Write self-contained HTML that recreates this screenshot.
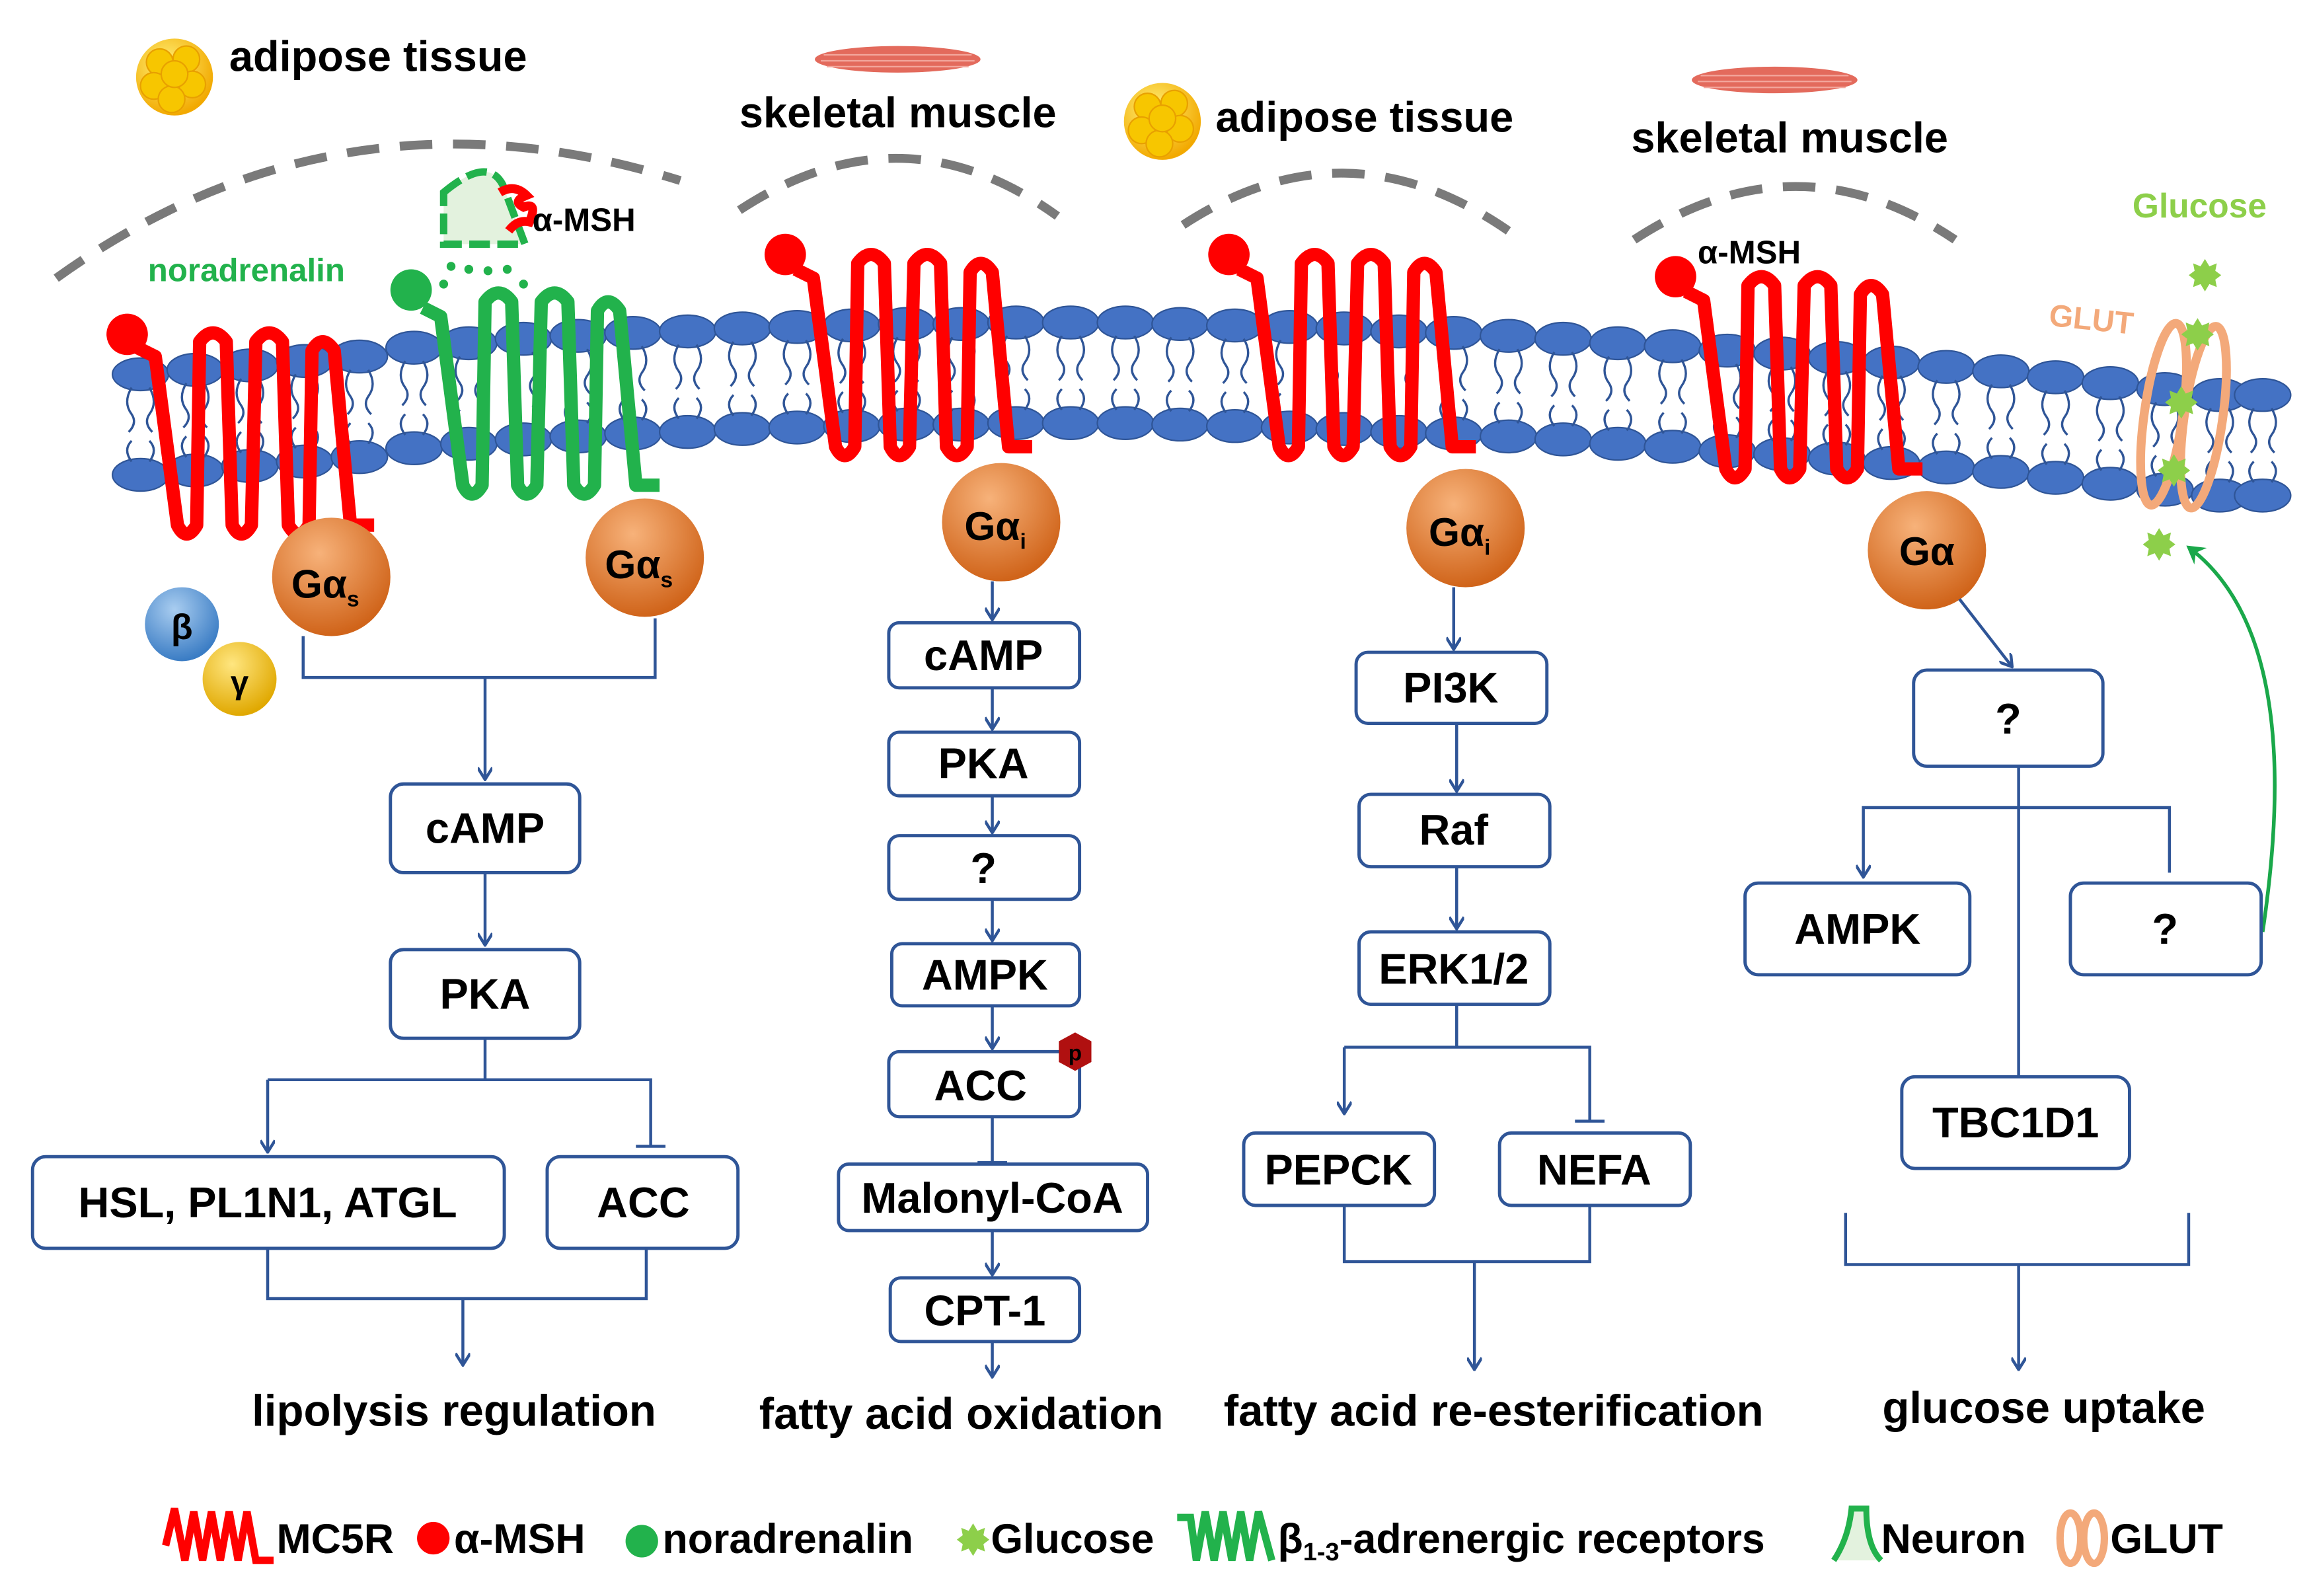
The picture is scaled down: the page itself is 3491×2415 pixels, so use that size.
<!DOCTYPE html>
<html><head><meta charset="utf-8"><style>
html,body{margin:0;padding:0;background:#fff}
svg{display:block}
text{font-family:"Liberation Sans",sans-serif;font-weight:bold}
</style></head><body>
<svg width="3491" height="2415" viewBox="0 0 1560 1079" xmlns="http://www.w3.org/2000/svg">
<defs>
<radialGradient id="og" cx="40%" cy="30%" r="70%"><stop offset="0" stop-color="#f7b27a"/><stop offset="1" stop-color="#d0641a"/></radialGradient>
<radialGradient id="bg" cx="40%" cy="30%" r="70%"><stop offset="0" stop-color="#a9cdf0"/><stop offset="1" stop-color="#3a7cc4"/></radialGradient>
<radialGradient id="yg" cx="40%" cy="30%" r="70%"><stop offset="0" stop-color="#ffe680"/><stop offset="1" stop-color="#e0a800"/></radialGradient>
<radialGradient id="fat" cx="40%" cy="35%" r="65%"><stop offset="0" stop-color="#fff27a"/><stop offset="1" stop-color="#f2a900"/></radialGradient>
<marker id="ar" markerWidth="10" markerHeight="10" refX="8" refY="5" orient="auto" markerUnits="userSpaceOnUse"><path d="M1,0 L9,5 L1,10" fill="none" stroke="#2f5597" stroke-width="2"/></marker>
<marker id="arg" markerWidth="14" markerHeight="14" refX="10" refY="7" orient="auto" markerUnits="userSpaceOnUse"><path d="M0,0 L12,7 L0,14 L4,7z" fill="#1aa84a"/></marker>
<g id="lip">
<ellipse cx="0" cy="-33" rx="19" ry="11" fill="#4472c4" stroke="#2f5597" stroke-width="1"/>
<ellipse cx="0" cy="35" rx="19" ry="11" fill="#4472c4" stroke="#2f5597" stroke-width="1"/>
<path d="M-6,-24 q-6,10 0,18 q4,6 -2,12 M6,-24 q6,10 0,18 q-4,6 2,12 M-6,26 q-6,-8 0,-14 M6,26 q6,-8 0,-14" fill="none" stroke="#2f5597" stroke-width="1.5"/>
</g>
<path id="rec" d="M18,20 L30,26 L45,140 Q51,152 58,140 L60,16 Q69,4 78,16 L82,140 Q88,152 95,140 L98,16 Q107,4 116,16 L120,140 Q127,152 134,140 L136,22 Q143,10 151,22 L162,140 L178,140" fill="none" stroke-width="9" stroke-linejoin="round"/>
<polygon id="star" points="0,-11 3,-6 8,-8 7,-3 11,0 7,3 8,8 3,6 0,11 -3,6 -8,8 -7,3 -11,0 -7,-3 -8,-8 -3,-6" fill="#8dcf4a"/>
<g id="fatc"><circle r="26" fill="url(#fat)"/><g fill="#f7c600" stroke="#e8a000" stroke-width="1"><circle cx="-10" cy="-10" r="9"/><circle cx="8" cy="-12" r="9"/><circle cx="-14" cy="6" r="9"/><circle cx="12" cy="5" r="9"/><circle cx="-2" cy="15" r="9"/><circle cx="0" cy="-2" r="9"/></g></g>
<g id="musc"><ellipse rx="56" ry="9" fill="#e36a5c"/><path d="M-50,-3 H50 M-52,1 H52 M-48,5 H48" stroke="#f3a79d" stroke-width="1"/></g>
</defs>

<g fill="none" stroke="#7a7a7a" stroke-width="6" stroke-dasharray="22 14">
<path d="M38,188 Q230,50 460,122"/>
<path d="M500,142 Q610,70 715,146"/>
<path d="M800,152 Q910,80 1020,156"/>
<path d="M1105,162 Q1215,90 1322,162"/>
</g>

<use href="#fatc" x="118" y="52"/>
<text x="155" y="48" font-size="29">adipose tissue</text>
<use href="#musc" x="607" y="40"/>
<text x="500" y="86" font-size="29">skeletal muscle</text>
<use href="#fatc" x="786" y="82"/>
<text x="822" y="89" font-size="29">adipose tissue</text>
<use href="#musc" x="1200" y="54"/>
<text x="1103" y="103" font-size="29">skeletal muscle</text>
<text x="1442" y="147" font-size="23" fill="#8dcf4a">Glucose</text>
<text x="1385" y="220" font-size="21" fill="#f3a97a" font-weight="normal" transform="rotate(6 1385 220)">GLUT</text>

<g>
<use href="#lip" x="95" y="286"/><use href="#lip" x="132" y="283"/><use href="#lip" x="169" y="280"/><use href="#lip" x="206" y="277"/><use href="#lip" x="243" y="274"/><use href="#lip" x="280" y="268"/><use href="#lip" x="317" y="265"/><use href="#lip" x="354" y="262"/><use href="#lip" x="391" y="260"/><use href="#lip" x="428" y="258"/><use href="#lip" x="465" y="257"/><use href="#lip" x="502" y="255"/><use href="#lip" x="539" y="254"/><use href="#lip" x="576" y="253"/><use href="#lip" x="613" y="252"/><use href="#lip" x="650" y="252"/><use href="#lip" x="687" y="251"/><use href="#lip" x="724" y="251"/><use href="#lip" x="761" y="251"/><use href="#lip" x="798" y="252"/><use href="#lip" x="835" y="253"/><use href="#lip" x="872" y="254"/><use href="#lip" x="909" y="255"/><use href="#lip" x="946" y="257"/><use href="#lip" x="983" y="258"/><use href="#lip" x="1020" y="260"/><use href="#lip" x="1057" y="262"/><use href="#lip" x="1094" y="265"/><use href="#lip" x="1131" y="267"/><use href="#lip" x="1168" y="270"/><use href="#lip" x="1205" y="272"/><use href="#lip" x="1242" y="275"/><use href="#lip" x="1279" y="278"/><use href="#lip" x="1316" y="281"/><use href="#lip" x="1353" y="284"/><use href="#lip" x="1390" y="288"/><use href="#lip" x="1427" y="292"/><use href="#lip" x="1464" y="296"/><use href="#lip" x="1501" y="300"/><use href="#lip" x="1530" y="300"/>
</g>

<circle cx="86" cy="226" r="14" fill="#f00"/>
<use href="#rec" x="75" y="215" stroke="#f00"/>
<path d="M300,130 Q330,105 340,125 L355,165 L300,165 Z" fill="#e3f2de" stroke="#22b24c" stroke-width="5" stroke-dasharray="14 5"/>
<path d="M338,130 q10,-6 18,2 q-10,4 -2,8 q10,-4 4,10 q-8,-2 -14,6" fill="none" stroke="#f00" stroke-width="6"/>
<text x="360" y="156" font-size="22">α-MSH</text>
<text x="100" y="190" font-size="22" fill="#22b24c">noradrenalin</text>
<g fill="#22b24c"><circle cx="305" cy="180" r="3"/><circle cx="317" cy="182" r="3"/><circle cx="330" cy="183" r="3"/><circle cx="343" cy="182" r="3"/><circle cx="300" cy="192" r="3"/><circle cx="354" cy="192" r="3"/></g>
<circle cx="278" cy="196" r="14" fill="#22b24c"/>
<use href="#rec" x="268" y="188" stroke="#22b24c"/>
<circle cx="531" cy="172" r="14" fill="#f00"/>
<use href="#rec" x="520" y="162" stroke="#f00"/>
<circle cx="831" cy="172" r="14" fill="#f00"/>
<use href="#rec" x="820" y="162" stroke="#f00"/>
<circle cx="1133" cy="187" r="14" fill="#f00"/>
<use href="#rec" x="1122" y="177" stroke="#f00"/>
<text x="1148" y="178" font-size="22">α-MSH</text>

<g fill="none" stroke="#f3a97a" stroke-width="6">
<ellipse cx="1463" cy="280" rx="13" ry="62" transform="rotate(8 1463 280)"/>
<ellipse cx="1490" cy="282" rx="13" ry="62" transform="rotate(8 1490 282)"/>
</g>
<use href="#star" x="1491" y="186"/><use href="#star" x="1486" y="226"/><use href="#star" x="1475" y="272"/><use href="#star" x="1470" y="318"/><use href="#star" x="1460" y="368"/>
<path d="M1530,630 Q1560,430 1480,370" fill="none" stroke="#1aa84a" stroke-width="2.5" marker-end="url(#arg)"/>

<g font-size="27" text-anchor="middle">
<circle cx="224" cy="390" r="40" fill="url(#og)"/><text x="220" y="404">Gα<tspan font-size="15" dy="6">s</tspan></text>
<circle cx="436" cy="377" r="40" fill="url(#og)"/><text x="432" y="391">Gα<tspan font-size="15" dy="6">s</tspan></text>
<circle cx="677" cy="353" r="40" fill="url(#og)"/><text x="673" y="365">Gα<tspan font-size="15" dy="6">i</tspan></text>
<circle cx="991" cy="357" r="40" fill="url(#og)"/><text x="987" y="369">Gα<tspan font-size="15" dy="6">i</tspan></text>
<circle cx="1303" cy="372" r="40" fill="url(#og)"/><text x="1303" y="382">Gα</text>
<circle cx="123" cy="422" r="25" fill="url(#bg)"/><text x="123" y="432" font-size="24">β</text>
<circle cx="162" cy="459" r="25" fill="url(#yg)"/><text x="162" y="469" font-size="22">γ</text>
</g>

<g fill="#fff" stroke="#2f5597" stroke-width="2.2">
<rect x="264" y="530" width="128" height="60" rx="9"/>
<rect x="264" y="642" width="128" height="60" rx="9"/>
<rect x="22" y="782" width="319" height="62" rx="9"/>
<rect x="370" y="782" width="129" height="62" rx="9"/>
<rect x="601" y="421" width="129" height="44" rx="7"/>
<rect x="601" y="495" width="129" height="43" rx="7"/>
<rect x="601" y="565" width="129" height="43" rx="7"/>
<rect x="603" y="638" width="127" height="42" rx="7"/>
<rect x="601" y="711" width="129" height="44" rx="7"/>
<rect x="567" y="787" width="209" height="45" rx="7"/>
<rect x="602" y="864" width="128" height="43" rx="7"/>
<rect x="917" y="441" width="129" height="48" rx="8"/>
<rect x="919" y="537" width="129" height="49" rx="8"/>
<rect x="919" y="630" width="129" height="49" rx="8"/>
<rect x="841" y="766" width="129" height="49" rx="8"/>
<rect x="1014" y="766" width="129" height="49" rx="8"/>
<rect x="1294" y="453" width="128" height="65" rx="9"/>
<rect x="1180" y="597" width="152" height="62" rx="9"/>
<rect x="1400" y="597" width="129" height="62" rx="9"/>
<rect x="1286" y="728" width="154" height="62" rx="9"/>
</g>
<polygon points="727,698 738,704 738,718 727,724 716,718 716,704" fill="#b01010"/>
<text x="727" y="717" font-size="15" fill="#000" text-anchor="middle">p</text>
<g font-size="29" text-anchor="middle">
<text x="328" y="570">cAMP</text><text x="328" y="682">PKA</text>
<text x="181" y="823">HSL, PL1N1, ATGL</text><text x="435" y="823">ACC</text>
<text x="665" y="453">cAMP</text><text x="665" y="526">PKA</text><text x="665" y="597">?</text>
<text x="666" y="669">AMPK</text><text x="663" y="744">ACC</text><text x="671" y="820">Malonyl-CoA</text><text x="666" y="896">CPT-1</text>
<text x="981" y="475">PI3K</text><text x="983" y="571">Raf</text><text x="983" y="665">ERK1/2</text>
<text x="905" y="801">PEPCK</text><text x="1078" y="801">NEFA</text>
<text x="1358" y="496">?</text><text x="1256" y="638">AMPK</text><text x="1464" y="638">?</text><text x="1363" y="769">TBC1D1</text>
</g>

<g fill="none" stroke="#2f5597" stroke-width="2">
<path d="M205,430 V458 H443 V418"/>
<path d="M328,458 V526" marker-end="url(#ar)"/>
<path d="M328,590 V638" marker-end="url(#ar)"/>
<path d="M328,702 V730 M181,730 H440 V775 M430,775 H450"/>
<path d="M181,730 V778" marker-end="url(#ar)"/>
<path d="M181,844 V878 H437 V844"/>
<path d="M313,878 V922" marker-end="url(#ar)"/>
<path d="M671,393 V418" marker-end="url(#ar)"/>
<path d="M671,465 V492" marker-end="url(#ar)"/>
<path d="M671,538 V562" marker-end="url(#ar)"/>
<path d="M671,608 V635" marker-end="url(#ar)"/>
<path d="M671,680 V708" marker-end="url(#ar)"/>
<path d="M671,755 V786 M661,786 H681"/>
<path d="M671,832 V861" marker-end="url(#ar)"/>
<path d="M671,907 V930" marker-end="url(#ar)"/>
<path d="M983,397 V438" marker-end="url(#ar)"/>
<path d="M985,489 V534" marker-end="url(#ar)"/>
<path d="M985,586 V627" marker-end="url(#ar)"/>
<path d="M985,679 V708 M909,708 H1075 V758 M1065,758 H1085"/>
<path d="M909,708 V752" marker-end="url(#ar)"/>
<path d="M909,815 V853 H1075 V815"/>
<path d="M997,853 V925" marker-end="url(#ar)"/>
<path d="M1325,405 L1360,450" marker-end="url(#ar)"/>
<path d="M1365,518 V728"/>
<path d="M1467,590 V546 H1260 V592" marker-end="url(#ar)"/>
<path d="M1248,820 V855 H1480 V820"/>
<path d="M1365,855 V925" marker-end="url(#ar)"/>
</g>

<g font-size="30" text-anchor="middle">
<text x="307" y="964">lipolysis regulation</text>
<text x="650" y="966">fatty acid oxidation</text>
<text x="1010" y="964">fatty acid re-esterification</text>
<text x="1382" y="962">glucose uptake</text>
</g>

<path d="M112,1045 L118,1020 L125,1055 L131,1022 L137,1055 L143,1022 L149,1055 L155,1022 L161,1055 L167,1022 L173,1055 L185,1055" fill="none" stroke="#f00" stroke-width="5"/>
<text x="187" y="1050" font-size="28">MC5R</text>
<circle cx="293" cy="1040" r="11" fill="#f00"/>
<text x="307" y="1050" font-size="28">α-MSH</text>
<circle cx="434" cy="1042" r="11" fill="#22b24c"/>
<text x="448" y="1050" font-size="28">noradrenalin</text>
<use href="#star" x="658" y="1041"/>
<text x="670" y="1050" font-size="28">Glucose</text>
<path d="M796,1026 L805,1026 L809,1055 L815,1022 L821,1055 L827,1022 L833,1055 L839,1022 L845,1055 L851,1022 L860,1055" fill="none" stroke="#22b24c" stroke-width="5"/>
<text x="864" y="1050" font-size="28">β<tspan font-size="17" dy="5">1-3</tspan><tspan dy="-5">-adrenergic receptors</tspan></text>
<path d="M1240,1055 Q1250,1040 1252,1020 L1262,1020 Q1262,1045 1272,1055" fill="#e3f2de" stroke="#22b24c" stroke-width="4"/>
<text x="1272" y="1050" font-size="28">Neuron</text>
<ellipse cx="1400" cy="1040" rx="7" ry="17" fill="none" stroke="#f3a97a" stroke-width="5"/>
<ellipse cx="1416" cy="1040" rx="7" ry="17" fill="none" stroke="#f3a97a" stroke-width="5"/>
<text x="1427" y="1050" font-size="28">GLUT</text>
</svg>
</body></html>
